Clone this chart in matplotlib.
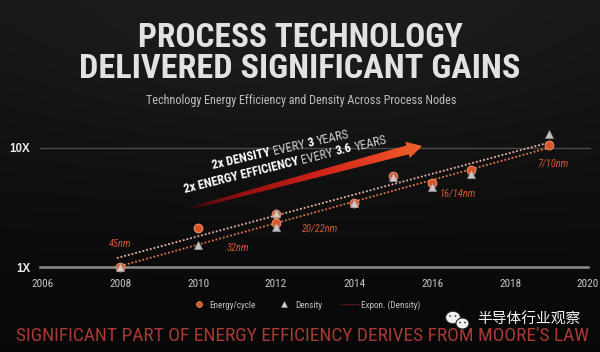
import numpy as np
import matplotlib
matplotlib.use('Agg')
import matplotlib.pyplot as plt
from matplotlib import font_manager as fm
from matplotlib.patches import Polygon, Ellipse
from matplotlib.lines import Line2D

# ---------------- data ----------------
year_ticks = [2006, 2008, 2010, 2012, 2014, 2016, 2018, 2020]
y_ticks = [1, 10]
y_tick_labels = ['1X', '10X']
energy_years = [2008, 2010, 2012, 2012, 2014, 2015, 2016, 2017, 2019]
energy_values = [1.0, 2.14, 2.35, 2.8, 3.45, 5.8, 5.05, 6.5, 10.6]
density_years = [2008, 2010, 2012, 2012, 2014, 2015, 2016, 2017, 2019]
density_values = [1.0, 1.53, 2.83, 2.18, 3.45, 5.7, 4.67, 6.0, 13.1]
trend_years = [2007.92, 2018.95]
trend_density = [1.19, 11.0]
trend_energy = [1.0, 9.94]
node_labels = ['45nm', '32nm', '20/22nm', '16/14nm', '7/10nm']
node_label_x = [2008.0, 2011.03, 2013.12, 2016.67, 2019.09]
node_label_y = [1.57, 1.44, 2.09, 4.11, 7.45]
legend_labels = ['Energy/cycle', 'Density', 'Expon. (Density)']
title_lines = ['PROCESS TECHNOLOGY', 'DELIVERED SIGNIFICANT GAINS']
subtitle = 'Technology Energy Efficiency and Density Across Process Nodes'
footer = "SIGNIFICANT PART OF ENERGY EFFICIENCY DERIVES FROM MOORE'S LAW"
watermark = '半导体行业观察'
arrow_line1 = [('2x DENSITY', 'bold'), (' EVERY ', 'normal'), ('3', 'bold'), (' YEARS', 'normal')]
arrow_line2 = [('2x ENERGY EFFICIENCY', 'bold'), (' EVERY ', 'normal'), ('3.6', 'bold'), (' YEARS', 'normal')]

# ---------------- fonts ----------------
avail = {f.name for f in fm.fontManager.ttflist}
if 'Liberation Sans Narrow' in avail:
    NARROW, STRETCH = 'Liberation Sans Narrow', 'normal'
elif 'Roboto Condensed' in avail:
    NARROW, STRETCH = 'Roboto Condensed', 'normal'
else:
    NARROW, STRETCH = 'DejaVu Sans', 'condensed'
WIDE = 'Liberation Sans' if 'Liberation Sans' in avail else 'DejaVu Sans'

W, H = 600, 352
fig = plt.figure(figsize=(W / 100, H / 100), dpi=100)
fig.patch.set_facecolor('#111111')
R = fig.canvas.get_renderer()

# ---------------- background ----------------
bg = fig.add_axes([0, 0, 1, 1], zorder=0)
yy, xx = np.mgrid[0:H, 0:W]
v = 0.085 - 0.055 * (yy / H) + 0.03 * np.exp(-(((xx - 300) / 320) ** 2 + ((yy - 40) / 130) ** 2))
v = np.clip(v, 0, 1)
img = np.dstack([v, v, v])
bg.imshow(img, extent=(0, W, H, 0), aspect='auto', interpolation='bilinear')
bg.set_xlim(0, W); bg.set_ylim(H, 0); bg.axis('off')

# ---------------- main axes ----------------
def ypx(val):
    return 267 - 119 * np.log10(val)

ylo, yhi = 0.8, 16
left, right = 42, 588
bot, top = ypx(ylo), ypx(yhi)
ax = fig.add_axes([left / W, (H - bot) / H, (right - left) / W, (bot - top) / H], zorder=2)
ax.set_facecolor('none')
ax.set_yscale('log')
ax.set_xlim(2006, 2020)
ax.set_ylim(ylo, yhi)
for s in ax.spines.values():
    s.set_visible(False)
ax.yaxis.set_minor_locator(matplotlib.ticker.NullLocator())
ax.set_xticks(year_ticks)
ax.set_xticklabels([str(y) for y in year_ticks], fontsize=8, color='#c8c8c8',
                   family=NARROW, fontstretch=STRETCH)
ax.set_yticks(y_ticks)
ax.set_yticklabels(y_tick_labels, fontsize=8.3, color='#ececec', family=WIDE, fontweight='bold')
ax.tick_params(axis='x', length=0, pad=0.5)
ax.tick_params(axis='y', length=0, pad=8.5)

ax.axhline(1, xmin=-0.004, xmax=1.0, color='#8c8c8c', lw=1.8, clip_on=False, zorder=1)
ax.axhline(10, xmin=-0.004, xmax=1.004, color='#4a4a4a', lw=1.0, clip_on=False, zorder=1)

ln_d, = ax.plot(trend_years, trend_density, ls=(0, (1, 1.1)), color='#e6b4a6', lw=1.3, zorder=3)
ln_e, = ax.plot(trend_years, trend_energy, ls=(0, (1, 1.1)), color='#d9744e', lw=1.3, zorder=3)

sc_e, = ax.plot(energy_years, energy_values, 'o', ms=6.2, mfc='#d4562a', mec='#ee8a60', mew=0.8,
                ls='none', zorder=4)
sc_d, = ax.plot(density_years, density_values, '^', ms=6.0, mfc='#d2d2d2', mec='#9a9a9a', mew=0.5,
                ls='none', alpha=0.92, zorder=5)

for lab, lx, ly in zip(node_labels, node_label_x, node_label_y):
    ax.text(lx, ly, lab, ha='center', va='center', fontsize=7.6, style='italic',
            color='#c9572f', family=NARROW, fontstretch=STRETCH, zorder=6)

leg_line = Line2D([], [], ls=(0, (1, 1)), color='#8a2a22', lw=1.0)
leg_c = Line2D([], [], marker='o', ls='none', ms=4.2, mfc='#d4562a', mec='#e98a62', mew=0.6)
leg_t = Line2D([], [], marker='^', ls='none', ms=4.5, mfc='#d2d2d2', mec='#9a9a9a', mew=0.4)
leg = ax.legend([leg_c, leg_t, leg_line], legend_labels, loc='center',
                bbox_to_anchor=(305 / W, 1 - 305 / H), bbox_transform=fig.transFigure,
                ncol=3, frameon=False, handlelength=2.0, handletextpad=0.15,
                columnspacing=2.1, borderaxespad=0,
                prop={'family': NARROW, 'size': 6.6, 'stretch': STRETCH})
for t in leg.get_texts():
    t.set_color('#c4c4c4')

# ---------------- overlay (pixel coords) ----------------
ov = fig.add_axes([0, 0, 1, 1], zorder=3)
ov.set_xlim(0, W); ov.set_ylim(H, 0); ov.axis('off'); ov.set_facecolor('none')


def fit_width(t, target):
    w = t.get_window_extent(R).width
    t.set_fontsize(t.get_fontsize() * target / w)
    return t

# titles
for line, base, wtarget in zip(title_lines, [46.7, 78.3], [325, 442]):
    t = ov.text(300, base, line, ha='center', va='baseline', fontsize=20, fontweight='bold',
                family=NARROW, fontstretch=STRETCH, color='#e2e2e2', zorder=5)
    fit_width(t, wtarget)

t = ov.text(301, 104, subtitle, ha='center', va='baseline', fontsize=8,
            family=NARROW, fontstretch=STRETCH, color='#bdbdbd', zorder=5)
fit_width(t, 309)

t = ov.text(16, 341.3, footer, ha='left', va='baseline', fontsize=12,
            family=NARROW, fontstretch=STRETCH, color='#a83a36', zorder=5)
fit_width(t, 571)

# arrow with gradient
T = np.array([180.0, 211.0])
P = np.array([422.0, 146.0])
u = (P - T) / np.linalg.norm(P - T)
n = np.array([-u[1], u[0]])
B = P - 15 * u
poly = [T + n * 1.2, B + n * 4.6, B + n * 8.5, P, B - n * 8.5, B - n * 4.6, T - n * 1.2]
patch = Polygon(poly, closed=True, facecolor='none', edgecolor='none', transform=ov.transData)
ov.add_patch(patch)
x0, x1, y0, y1 = 170, 430, 135, 222
gy, gx = np.mgrid[y0:y1:0.5, x0:x1:0.5]
tpos = np.clip(((gx - T[0]) * u[0] + (gy - T[1]) * u[1]) / np.linalg.norm(P - T), 0, 1)
stops = np.array([0.0, 0.25, 0.55, 0.85, 1.0])
cols = np.array([[0.22, 0.02, 0.02], [0.62, 0.07, 0.07], [0.85, 0.13, 0.10],
                 [0.93, 0.29, 0.14], [0.95, 0.40, 0.17]])
rgb = np.dstack([np.interp(tpos, stops, cols[:, k]) for k in range(3)])
alpha = np.interp(tpos, [0, 0.12, 1], [0.0, 0.9, 1.0])
grad = np.dstack([rgb, alpha])
im = ov.imshow(grad, extent=(x0, x1, y1, y0), aspect='auto', interpolation='bilinear', zorder=2)
im.set_clip_path(patch)
ov.set_xlim(0, W); ov.set_ylim(H, 0)


def rich_line(start, angle, pieces, size):
    ang = np.deg2rad(angle)
    d = np.array([np.cos(ang), -np.sin(ang)])
    pos = np.array(start, dtype=float)
    for txt, wt in pieces:
        col = '#ffffff' if wt == 'bold' else '#d0d0d0'
        core = txt.strip()
        lead = len(txt) - len(txt.lstrip())
        trail = len(txt) - len(txt.rstrip())
        probe = ov.text(0, 0, 'x x', fontsize=size, fontweight=wt, family=NARROW, fontstretch=STRETCH)
        probe2 = ov.text(0, 0, 'xx', fontsize=size, fontweight=wt, family=NARROW, fontstretch=STRETCH)
        sp = probe.get_window_extent(R).width - probe2.get_window_extent(R).width
        probe.remove(); probe2.remove()
        pos = pos + d * sp * lead
        t = ov.text(pos[0], pos[1], core, rotation=angle, rotation_mode='anchor', ha='left',
                    va='baseline', fontsize=size, fontweight=wt, family=NARROW,
                    fontstretch=STRETCH, color=col, zorder=6)
        m = ov.text(0, 0, core, fontsize=size, fontweight=wt, family=NARROW, fontstretch=STRETCH)
        w = m.get_window_extent(R).width
        m.remove()
        pos = pos + d * (w + sp * trail)
    return pos


def line_len(pieces, size):
    total = 0
    for txt, wt in pieces:
        m = ov.text(0, 0, txt.replace(' ', '\u00a0'), fontsize=size, fontweight=wt,
                    family=NARROW, fontstretch=STRETCH)
        total += m.get_window_extent(R).width
        m.remove()
    return total

size = 8.0 * 208 / line_len(arrow_line2, 8.0)
rich_line((213, 169), 13.0, arrow_line1, size)
rich_line((185, 193), 14.0, arrow_line2, size)

# watermark
ov.add_patch(Ellipse((453, 317.5), 15, 12.5, facecolor='#f2f2f2', edgecolor='#222222', lw=0.8, zorder=7))
ov.add_patch(Ellipse((462.5, 323.5), 13, 11, facecolor='#f2f2f2', edgecolor='#222222', lw=0.8, zorder=7))
for ex, ey in [(450, 316), (455.5, 316), (460, 322.5), (465, 322.5)]:
    ov.add_patch(Ellipse((ex, ey), 1.8, 1.8, facecolor='#333333', edgecolor='none', zorder=8))
t = ov.text(477, 320, watermark, ha='left', va='center', fontsize=10,
            family=['Noto Sans CJK SC', 'DejaVu Sans'], color='#f4f4f4', zorder=8)
fit_width(t, 103)

fig.savefig('out.png', dpi=100, facecolor=fig.get_facecolor())
